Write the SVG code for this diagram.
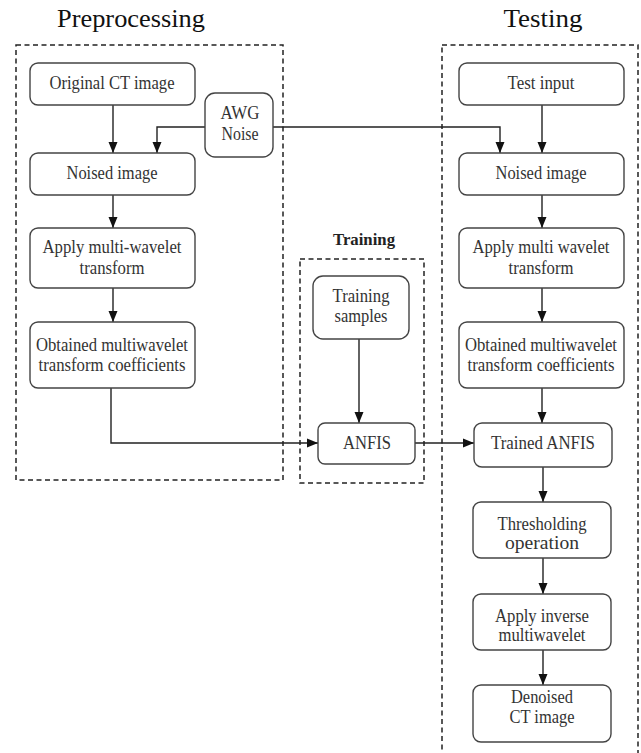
<svg xmlns="http://www.w3.org/2000/svg" width="641" height="753" viewBox="0 0 641 753">
<style>
.bg{fill:#fff}
.grp{fill:none;stroke:#222;stroke-width:1.5;stroke-dasharray:5 3.5}
.box{fill:#fff;stroke:#444;stroke-width:1.4}
.t{font-family:"Liberation Serif","Times New Roman",serif;font-size:19px;fill:#333;text-anchor:middle}
.title{font-family:"Liberation Serif","Times New Roman",serif;font-size:26px;fill:#111;text-anchor:middle}
.lbl{font-family:"Liberation Serif","Times New Roman",serif;font-size:17px;font-weight:bold;fill:#222;text-anchor:middle}
.c{fill:none;stroke:#222;stroke-width:1.4}
</style>
<defs>
<marker id="ah" markerUnits="userSpaceOnUse" markerWidth="12" markerHeight="12" viewBox="0 0 12 12" refX="11" refY="6" orient="auto">
<path d="M0,1.5 L11,6 L0,10.5 Z" fill="#111"/>
</marker>
</defs>
<rect class="bg" x="0" y="0" width="641" height="753"/>

<g id="titles">
<text class="title" x="131" y="27" textLength="148" lengthAdjust="spacingAndGlyphs">Preprocessing</text>
<text class="title" x="543" y="27" textLength="79" lengthAdjust="spacingAndGlyphs">Testing</text>
<text class="lbl" x="364" y="245" textLength="62" lengthAdjust="spacingAndGlyphs">Training</text>
</g>

<g id="groups">
<rect id="grp-pre" class="grp" x="16" y="45" width="267" height="435"/>
<rect id="grp-train" class="grp" x="300" y="259" width="124" height="224"/>
<rect id="grp-test" class="grp" x="442" y="45" width="196" height="730"/>
</g>

<g id="connectors">
<line class="c" x1="113" y1="105" x2="113" y2="153" marker-end="url(#ah)"/>
<path class="c" d="M205,127 H157 V153" marker-end="url(#ah)"/>
<path class="c" d="M273,127 H500 V153" marker-end="url(#ah)"/>
<line class="c" x1="542" y1="105" x2="542" y2="153" marker-end="url(#ah)"/>
<line class="c" x1="113" y1="195" x2="113" y2="228" marker-end="url(#ah)"/>
<line class="c" x1="113" y1="288" x2="113" y2="322" marker-end="url(#ah)"/>
<path class="c" d="M111,388 V443 H318" marker-end="url(#ah)"/>
<line class="c" x1="359" y1="339" x2="359" y2="423" marker-end="url(#ah)"/>
<line class="c" x1="415" y1="443" x2="474" y2="443" marker-end="url(#ah)"/>
<line class="c" x1="542" y1="195" x2="542" y2="228" marker-end="url(#ah)"/>
<line class="c" x1="542" y1="288" x2="542" y2="322" marker-end="url(#ah)"/>
<line class="c" x1="542" y1="388" x2="542" y2="423" marker-end="url(#ah)"/>
<line class="c" x1="543" y1="467" x2="543" y2="502" marker-end="url(#ah)"/>
<line class="c" x1="543" y1="558" x2="543" y2="594" marker-end="url(#ah)"/>
<line class="c" x1="543" y1="650" x2="543" y2="685" marker-end="url(#ah)"/>
</g>

<g id="n-orig"><rect class="box" x="30" y="63" width="165" height="42" rx="8"/>
<text class="t" x="112" y="89" textLength="125" lengthAdjust="spacingAndGlyphs">Original CT image</text></g>

<g id="n-awg"><rect class="box" x="205" y="93" width="68" height="64" rx="10"/>
<text class="t" x="240" y="119" textLength="39" lengthAdjust="spacingAndGlyphs">AWG</text>
<text class="t" x="240" y="140" textLength="37" lengthAdjust="spacingAndGlyphs">Noise</text></g>

<g id="n-noisedL"><rect class="box" x="30" y="153" width="165" height="42" rx="8"/>
<text class="t" x="112" y="179" textLength="91" lengthAdjust="spacingAndGlyphs">Noised image</text></g>

<g id="n-applyL"><rect class="box" x="30" y="228" width="165" height="60" rx="8"/>
<text class="t" x="112" y="253" textLength="139" lengthAdjust="spacingAndGlyphs">Apply multi-wavelet</text>
<text class="t" x="112" y="274" textLength="65" lengthAdjust="spacingAndGlyphs">transform</text></g>

<g id="n-obtL"><rect class="box" x="30" y="322" width="165" height="66" rx="8"/>
<text class="t" x="112" y="351" textLength="152" lengthAdjust="spacingAndGlyphs">Obtained multiwavelet</text>
<text class="t" x="112" y="371" textLength="147" lengthAdjust="spacingAndGlyphs">transform coefficients</text></g>

<g id="n-test"><rect class="box" x="459" y="63" width="165" height="42" rx="8"/>
<text class="t" x="541" y="89" textLength="67" lengthAdjust="spacingAndGlyphs">Test input</text></g>

<g id="n-noisedR"><rect class="box" x="459" y="153" width="165" height="42" rx="8"/>
<text class="t" x="541" y="179" textLength="91" lengthAdjust="spacingAndGlyphs">Noised image</text></g>

<g id="n-applyR"><rect class="box" x="459" y="228" width="165" height="60" rx="8"/>
<text class="t" x="541" y="253" textLength="137" lengthAdjust="spacingAndGlyphs">Apply multi wavelet</text>
<text class="t" x="541" y="274" textLength="65" lengthAdjust="spacingAndGlyphs">transform</text></g>

<g id="n-obtR"><rect class="box" x="459" y="322" width="165" height="66" rx="8"/>
<text class="t" x="541" y="351" textLength="152" lengthAdjust="spacingAndGlyphs">Obtained multiwavelet</text>
<text class="t" x="541" y="371" textLength="147" lengthAdjust="spacingAndGlyphs">transform coefficients</text></g>

<g id="n-trainS"><rect class="box" x="313" y="276" width="96" height="63" rx="10"/>
<text class="t" x="361" y="302" textLength="57" lengthAdjust="spacingAndGlyphs">Training</text>
<text class="t" x="361" y="322" textLength="53" lengthAdjust="spacingAndGlyphs">samples</text></g>

<g id="n-anfis"><rect class="box" x="318" y="423" width="97" height="41" rx="7"/>
<text class="t" x="367" y="449" textLength="48" lengthAdjust="spacingAndGlyphs">ANFIS</text></g>

<g id="n-trained"><rect class="box" x="474" y="423" width="138" height="44" rx="8"/>
<text class="t" x="543" y="449" textLength="104" lengthAdjust="spacingAndGlyphs">Trained ANFIS</text></g>

<g id="n-thresh"><rect class="box" x="473" y="502" width="138" height="56" rx="8"/>
<text class="t" x="542" y="530" textLength="89" lengthAdjust="spacingAndGlyphs">Thresholding</text>
<text class="t" x="542" y="549" textLength="74" lengthAdjust="spacingAndGlyphs">operation</text></g>

<g id="n-inverse"><rect class="box" x="473" y="594" width="138" height="56" rx="8"/>
<text class="t" x="542" y="622" textLength="94" lengthAdjust="spacingAndGlyphs">Apply inverse</text>
<text class="t" x="542" y="641" textLength="87" lengthAdjust="spacingAndGlyphs">multiwavelet</text></g>

<g id="n-denoised"><rect class="box" x="473" y="685" width="138" height="57" rx="8"/>
<text class="t" x="542" y="703" textLength="62" lengthAdjust="spacingAndGlyphs">Denoised</text>
<text class="t" x="542" y="723" textLength="65" lengthAdjust="spacingAndGlyphs">CT image</text></g>
</svg>
